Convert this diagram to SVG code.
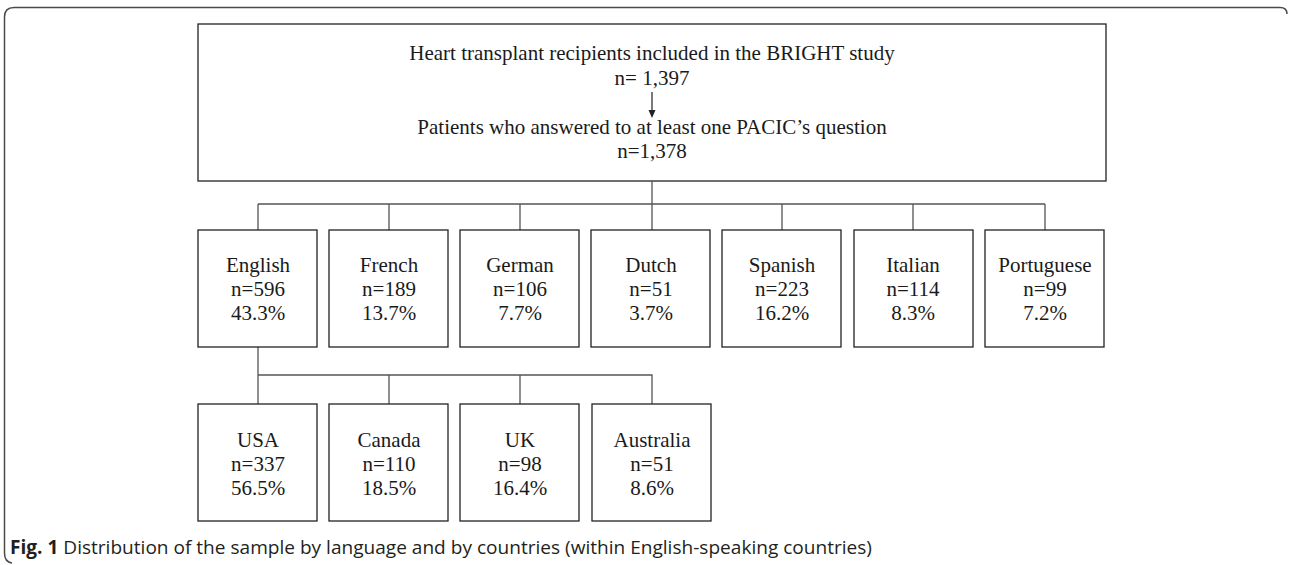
<svg xmlns="http://www.w3.org/2000/svg" width="1290" height="565" viewBox="0 0 1290 565">
<style>
.box{fill:#fff;stroke:#222;stroke-width:1.3}
.t{font-family:"Liberation Serif","Times New Roman",serif;font-size:21px;fill:#1a1a1a;text-anchor:middle}
.c{fill:none;stroke:#555;stroke-width:1.3}
.frame{fill:none;stroke:#4a4a4a;stroke-width:1.5}
.cap{font-family:"Open Sans","Noto Sans",sans-serif;font-size:19px;fill:#231f20}
</style>
<rect width="1290" height="565" fill="#fff"/>
<path class="frame" d="M1287,14 Q1287,7.5 1280,7.5 H14 Q4.5,7.5 4.5,17 V553 Q4.5,562 12,563"/>

<g id="top">
<rect class="box" x="198" y="24" width="908" height="157"/>
<text class="t" x="652" y="60">Heart transplant recipients included in the BRIGHT study</text>
<text class="t" x="652" y="85">n= 1,397</text>
<text class="t" x="652" y="134">Patients who answered to at least one PACIC’s question</text>
<text class="t" x="652" y="158">n=1,378</text>
</g>

<g id="connectors">
<path d="M652,92 V112" fill="none" stroke="#222" stroke-width="1.2"/>
<path d="M648.5,110 L652,118 L655.5,110 Z" fill="#222"/>
<path class="c" d="M652,181 V230 M258,204 H1045 M258,204 V230 M389,204 V230 M520,204 V230 M782,204 V230 M913,204 V230 M1045,204 V230"/>
<path class="c" d="M258,347 V404 M258,375 H652 V404 M389,375 V404 M520,375 V404"/>
</g>

<g id="english"><rect class="box" x="198" y="230" width="119" height="117"/>
<text class="t" x="258" y="272">English</text><text class="t" x="258" y="296">n=596</text><text class="t" x="258" y="320">43.3%</text></g>
<g id="french"><rect class="box" x="329" y="230" width="119" height="117"/>
<text class="t" x="389" y="272">French</text><text class="t" x="389" y="296">n=189</text><text class="t" x="389" y="320">13.7%</text></g>
<g id="german"><rect class="box" x="460" y="230" width="119" height="117"/>
<text class="t" x="520" y="272">German</text><text class="t" x="520" y="296">n=106</text><text class="t" x="520" y="320">7.7%</text></g>
<g id="dutch"><rect class="box" x="591" y="230" width="119" height="117"/>
<text class="t" x="651" y="272">Dutch</text><text class="t" x="651" y="296">n=51</text><text class="t" x="651" y="320">3.7%</text></g>
<g id="spanish"><rect class="box" x="722" y="230" width="119" height="117"/>
<text class="t" x="782" y="272">Spanish</text><text class="t" x="782" y="296">n=223</text><text class="t" x="782" y="320">16.2%</text></g>
<g id="italian"><rect class="box" x="854" y="230" width="119" height="117"/>
<text class="t" x="913" y="272">Italian</text><text class="t" x="913" y="296">n=114</text><text class="t" x="913" y="320">8.3%</text></g>
<g id="portuguese"><rect class="box" x="985" y="230" width="119" height="117"/>
<text class="t" x="1045" y="272">Portuguese</text><text class="t" x="1045" y="296">n=99</text><text class="t" x="1045" y="320">7.2%</text></g>

<g id="usa"><rect class="box" x="198" y="404" width="119" height="117"/>
<text class="t" x="258" y="447">USA</text><text class="t" x="258" y="471">n=337</text><text class="t" x="258" y="495">56.5%</text></g>
<g id="canada"><rect class="box" x="329" y="404" width="119" height="117"/>
<text class="t" x="389" y="447">Canada</text><text class="t" x="389" y="471">n=110</text><text class="t" x="389" y="495">18.5%</text></g>
<g id="uk"><rect class="box" x="460" y="404" width="119" height="117"/>
<text class="t" x="520" y="447">UK</text><text class="t" x="520" y="471">n=98</text><text class="t" x="520" y="495">16.4%</text></g>
<g id="australia"><rect class="box" x="592" y="404" width="119" height="117"/>
<text class="t" x="652" y="447">Australia</text><text class="t" x="652" y="471">n=51</text><text class="t" x="652" y="495">8.6%</text></g>

<text class="cap" x="10" y="554" textLength="862" lengthAdjust="spacingAndGlyphs"><tspan font-weight="bold">Fig. 1</tspan> Distribution of the sample by language and by countries (within English-speaking countries)</text>
</svg>
